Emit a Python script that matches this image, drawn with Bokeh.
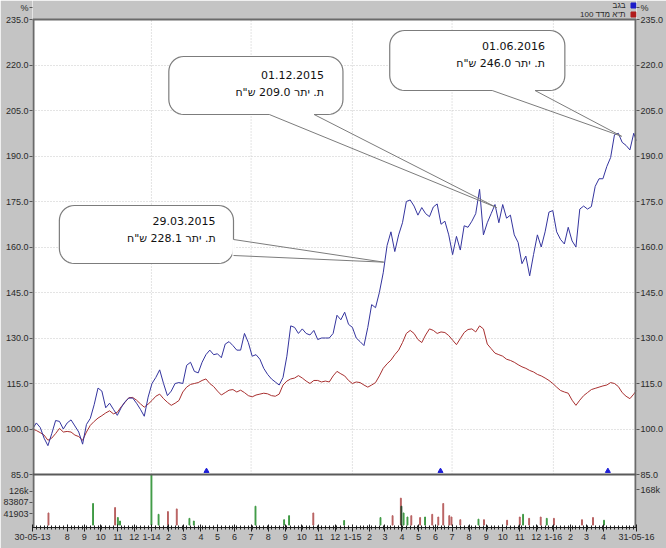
import numpy as np
import pandas as pd
from bokeh.plotting import figure
from bokeh.models import Range1d, FixedTicker, PrintfTickFormatter, LinearAxis, Span
from bokeh.core.properties import value
from bokeh.embed import file_html
from bokeh.resources import INLINE

# ---------------- data ----------------
START, END = "2013-05-30", "2016-05-31"
dates = list(pd.date_range(START, periods=157, freq="7D")) + [pd.Timestamp(END)]

stock = [100.0, 102.0, 100.5, 97.0, 94.5, 98.5, 102.8, 102.5, 100.0, 102.0,
         103.0, 101.0, 99.0, 95.0, 101.5, 103.5, 108.0, 113.5, 112.5, 107.0,
         108.5, 106.5, 104.5, 107.0, 109.0, 110.2, 110.2, 108.5, 106.5, 104.2,
         110.5, 115.0, 117.0, 119.5, 115.0, 111.0, 112.5, 115.0, 115.3, 115.0,
         121.0, 122.0, 119.0, 118.5, 122.0, 124.5, 126.0, 124.5, 124.8, 123.5,
         128.0, 128.8, 127.5, 126.0, 126.0, 131.5, 128.5, 124.0, 124.5, 123.0,
         120.0, 118.0, 116.5, 115.5, 114.5, 117.0, 124.0, 134.0, 133.5, 131.5,
         133.0, 131.5, 131.0, 132.5, 129.5, 130.0, 130.0, 130.0, 131.5, 137.5,
         136.0, 138.5, 134.5, 133.5, 130.0, 128.8, 127.5, 133.5, 141.0, 140.0,
         145.0, 151.5, 160.5, 165.0, 158.5, 164.0, 168.0, 175.0, 175.5, 173.5,
         170.5, 173.0, 171.0, 170.0, 173.2, 174.2, 167.5, 168.5, 164.0, 157.5,
         163.5, 159.0, 167.0, 166.5, 168.5, 171.0, 179.0, 164.0, 168.0, 171.0,
         174.0, 168.0, 174.0, 169.5, 170.5, 164.0, 161.5, 154.5, 157.0, 150.5,
         157.5, 164.0, 160.0, 165.0, 171.5, 172.0, 165.0, 162.5, 161.0, 166.5,
         162.0, 160.0, 172.5, 173.5, 172.5, 173.3, 180.0, 182.5, 182.5, 186.5,
         189.5, 197.0, 197.5, 194.5, 193.5, 192.0, 197.5, 195.0]

index100 = [100.0, 99.5, 98.8, 98.0, 96.3, 97.0, 98.5, 100.2, 99.0, 99.2,
            99.0, 98.0, 97.5, 96.3, 99.0, 101.2, 102.5, 103.6, 104.4, 105.3,
            106.0, 105.0, 105.5, 107.3, 108.8, 110.3, 110.4, 109.5, 108.3, 107.2,
            108.2, 109.4, 110.8, 111.5, 110.0, 108.8, 107.8, 108.5, 109.4, 112.2,
            113.8, 114.7, 115.0, 115.3, 116.0, 116.5, 115.0, 114.0, 112.5, 111.2,
            112.0, 112.8, 113.0, 112.2, 112.8, 112.0, 111.0, 110.6, 111.2, 111.5,
            111.8, 111.6, 111.0, 110.8, 111.5, 114.5, 115.8, 116.5, 116.8, 117.6,
            116.8, 115.8, 115.0, 116.0, 116.0, 115.5, 115.8, 115.5, 117.5, 119.0,
            118.2, 117.5, 116.0, 115.0, 115.5, 115.3, 114.5, 113.8, 114.5, 115.3,
            117.5, 120.0, 121.5, 122.7, 124.5, 126.0, 128.5, 131.5, 132.5, 131.5,
            129.5, 128.5, 131.0, 133.0, 132.5, 131.5, 132.0, 131.8, 130.8, 129.3,
            127.8, 129.8, 131.8, 132.8, 133.0, 132.0, 134.0, 133.0, 128.0, 126.5,
            125.0, 124.5, 124.0, 123.0, 122.6, 122.0, 121.2, 120.5, 120.0, 119.3,
            118.8, 118.0, 117.5, 116.8, 116.0, 115.0, 113.8, 112.7, 112.2, 111.8,
            109.5, 107.8, 109.5, 111.0, 112.0, 113.0, 113.4, 113.8, 114.2, 114.5,
            115.3, 115.0, 114.0, 112.0, 110.8, 110.0, 111.5, 112.7]

vol_dates = ["2013-06-28", "2013-09-17", "2013-10-27", "2013-11-01", "2013-11-05",
             "2014-01-01", "2014-01-14", "2014-01-31", "2014-02-16", "2014-03-11",
             "2014-03-19", "2014-07-09", "2014-08-30", "2014-09-08", "2014-10-22",
             "2014-12-17", "2015-02-21", "2015-03-15", "2015-03-30", "2015-03-31",
             "2015-04-04", "2015-04-11", "2015-04-18", "2015-05-04", "2015-05-13",
             "2015-05-26", "2015-06-06", "2015-06-15", "2015-06-26", "2015-06-30",
             "2015-07-16", "2015-08-18", "2015-08-28", "2015-10-09", "2015-11-01",
             "2015-11-07", "2015-11-18", "2015-12-09", "2015-12-20", "2016-01-02",
             "2016-02-22", "2016-03-13", "2016-04-02"]
vol_values = [45000, 80000, 65000, 28000, 15000,
              187000, 40000, 50000, 60000, 25000,
              15000, 70000, 20000, 35000, 45000,
              17000, 28000, 35000, 100000, 70000,
              45000, 30000, 35000, 28000, 30000,
              40000, 30000, 80000, 35000, 30000,
              20000, 22000, 20000, 18000, 30000,
              40000, 25000, 30000, 25000, 25000,
              20000, 28000, 18000]
vol_side = ["d", "u", "d", "u", "u",
            "u", "u", "d", "d", "u",
            "u", "u", "u", "u", "d",
            "u", "u", "d", "d", "n",
            "u", "u", "d", "d", "u",
            "d", "d", "d", "d", "d",
            "d", "u", "d", "d", "d",
            "u", "d", "d", "u", "d",
            "d", "d", "u"]

event_dates = ["2014-04-11", "2015-06-10", "2016-04-09"]

callout_dates = ["29.03.2015", "01.12.2015", "01.06.2016"]
callout_amounts = [228.1, 209.0, 246.0]
tip_dates = ["2015-02-27", "2015-09-20", "2016-05-04"]
tip_values = [155.0, 173.0, 196.5]

main_ticks = [85, 100, 115, 130, 145, 160, 175, 190, 205, 220, 235]
vol_ticks = [41903, 83807, 125709]
vol_tick_labels = ["41903", "83807", "126k"]
vol_max_label = "168k"
unit_label = "%"

x_tick_dates = ["2013-05-30", "2013-08-01", "2013-09-01", "2013-10-01", "2013-11-01", "2013-12-01",
                "2014-01-01", "2014-02-01", "2014-03-01", "2014-04-01", "2014-05-01", "2014-06-01",
                "2014-07-01", "2014-08-01", "2014-09-01", "2014-10-01", "2014-11-01", "2014-12-01",
                "2015-01-01", "2015-02-01", "2015-03-01", "2015-04-01", "2015-05-01", "2015-06-01",
                "2015-07-01", "2015-08-01", "2015-09-01", "2015-10-01", "2015-11-01", "2015-12-01",
                "2016-01-01", "2016-02-01", "2016-03-01", "2016-04-01", "2016-05-31"]
x_tick_labels = ["30-05-13", "8", "9", "10", "11", "12",
                 "1-14", "2", "3", "4", "5", "6", "7", "8", "9", "10", "11", "12",
                 "1-15", "2", "3", "4", "5", "6", "7", "8", "9", "10", "11", "12",
                 "1-16", "2", "3", "4", "31-05-16"]
grid_dates = ["2014-01-01", "2014-07-01", "2015-01-01", "2015-07-01", "2016-01-01"]

legend_names = ["בגב", "100 ת\"א מדד"]

# ---------------- layout / style ----------------
W, H = 666, 548
FL, FR, FB = 30, 637, 527
PLOT_T, MAIN_B = 19, 474
GRAY = "#c4c4c4"
FRAME = "#6a6a6a"
BLUE = "#34349e"
RED = "#a83030"
GREEN_V = "#3f9a45"
RED_V = "#b86060"
DARK_V = "#2a4a30"
AX_FONT = "Liberation Sans"


def ms(d):
    return pd.Timestamp(d).value / 1e6


T0, T1 = ms(START), ms(END)


def dx(px):
    return T0 + (px - FL) / (FR - FL) * (T1 - T0)


YPP = 150.0 / (MAIN_B - PLOT_T)


def dy(py):
    return 235 - (py - PLOT_T) * YPP


VOL_ZERO = 524.6
VOL_PP = 41903 / 11.3


def vol_to_main(v):
    return dy(VOL_ZERO - v / VOL_PP)


p = figure(width=W, height=H, x_axis_type="datetime",
           x_range=Range1d(T0, T1), y_range=Range1d(dy(FB), dy(0)),
           output_backend="svg", toolbar_location=None,
           min_border_left=FL, min_border_right=W - FR,
           min_border_top=0, min_border_bottom=H - FB,
           border_fill_color=GRAY, background_fill_color="white",
           outline_line_color=None)
p.extra_y_ranges = {"vol": Range1d(-(FB - VOL_ZERO) * VOL_PP, VOL_ZERO * VOL_PP)}

# top gray band
p.quad(left=T0, right=T1, bottom=235, top=dy(0), fill_color=GRAY, line_color=None)

# grids
p.xgrid.visible = False
p.ygrid.ticker = FixedTicker(ticks=main_ticks[1:-1])
p.ygrid.grid_line_color = "#c8c8c8"
p.ygrid.grid_line_dash = "1 2"
gx = [ms(d) for d in grid_dates]
p.segment(x0=gx, y0=85, x1=gx, y1=235, line_color="#c8c8c8", line_dash="1 2", line_width=1)

# series
xd = [ms(d) for d in dates]
p.line(xd, index100, line_color=RED, line_width=1)
p.line(xd, stock, line_color=BLUE, line_width=1)

# panel borders
p.add_layout(Span(location=85, dimension="width", line_color="#5a5a5a", line_width=2))
p.add_layout(Span(location=235, dimension="width", line_color=FRAME, line_width=2))
p.segment(x0=[T0, T1], y0=dy(FB), x1=[T0, T1], y1=235, line_color=FRAME, line_width=4)

# volume
cmap = {"u": GREEN_V, "d": RED_V, "n": DARK_V}
p.vbar(x=[ms(d) for d in vol_dates], top=vol_values, bottom=0, width=1.6 * 86400000,
       color=[cmap[s] for s in vol_side], y_range_name="vol")

# event markers
p.scatter(x=[ms(d) for d in event_dates], y=[dy(470.5)] * len(event_dates),
          marker="triangle", size=5, color="#1f1fd8")

# legend in the top band
p.text(x=[dx(626)] * 2, y=[dy(5), dy(14)], text=legend_names, text_align="right",
       text_baseline="middle", text_font=value(AX_FONT), text_font_size="8px",
       text_color="#2a2a2a")
p.scatter(x=[dx(634)] * 2, y=[dy(5), dy(14)], marker="square", size=5,
          color=["#1c1cc8", "#b01c1c"])

# callouts
bubbles = [
    dict(box=(57, 205, 232, 263), A=(232, 239), B=(232, 255), tx=214, ty=(220, 238)),
    dict(box=(167, 56, 342, 114), A=(268, 114), B=(313, 114), tx=323, ty=(74, 92)),
    dict(box=(389, 30, 565, 90), A=(492, 90), B=(535, 90), tx=545, ty=(45, 63)),
]


def rrect(x0, y0, x1, y1, r, n=10):
    pts = []
    for cx, cy, a0 in [(x1 - r, y0 + r, -90), (x1 - r, y1 - r, 0), (x0 + r, y1 - r, 90), (x0 + r, y0 + r, 180)]:
        for a in np.linspace(a0, a0 + 90, n):
            pts.append((cx + r * np.cos(np.radians(a)), cy + r * np.sin(np.radians(a))))
    return pts


for i, b in enumerate(bubbles):
    pts = rrect(*b["box"], 15)
    p.patch([dx(q[0]) for q in pts], [dy(q[1]) for q in pts],
            fill_color="white", line_color="#7c7c7c", line_width=1.2)
    (ax, ay), (bx, by) = b["A"], b["B"]
    p.line([dx(ax), dx(bx)], [dy(ay), dy(by)], line_color="white", line_width=2.5)
    tx, ty = ms(tip_dates[i]), tip_values[i]
    p.line([dx(ax), tx], [dy(ay), ty], line_color="#7c7c7c", line_width=1)
    p.line([dx(bx), tx], [dy(by), ty], line_color="#7c7c7c", line_width=1)
    heb = "ת. יתר %.1f ש\"ח" % callout_amounts[i]
    p.text(x=[dx(b["tx"]), dx(b["tx"])], y=[dy(b["ty"][0]), dy(b["ty"][1])],
           text=[callout_dates[i], heb],
           text_align="right", text_baseline="middle",
           text_font=value("DejaVu Sans"), text_font_size="11px", text_color="#111111")

# axes
pct_pos = round(dy(7), 4)
left_vol_pos = [round(vol_to_main(v), 4) for v in vol_ticks]
yl = p.yaxis[0]
yl.ticker = FixedTicker(ticks=main_ticks + left_vol_pos + [pct_pos])
yl.formatter = PrintfTickFormatter(format="%.1f")
ovl = {pos: lab for pos, lab in zip(left_vol_pos, vol_tick_labels)}
ovl[pct_pos] = unit_label
yl.major_label_overrides = ovl
right_extra = round(dy(489), 4)
yr = LinearAxis(ticker=FixedTicker(ticks=main_ticks + [right_extra, pct_pos]),
                formatter=PrintfTickFormatter(format="%.1f"))
yr.major_label_overrides = {right_extra: vol_max_label, pct_pos: unit_label}
p.add_layout(yr, "right")
for ax in (yl, yr):
    ax.axis_line_color = None
    ax.major_tick_out = 3
    ax.major_tick_in = 0
    ax.minor_tick_line_color = None
    ax.major_tick_line_color = "#555555"
    ax.major_label_standoff = 1
    ax.major_label_text_font = AX_FONT
    ax.major_label_text_font_size = "9px"
    ax.major_label_text_color = "#2a2a2a"

xa = p.xaxis[0]
x_ticks_ms = [ms(d) for d in x_tick_dates]
minor = [ms(d) for d in pd.date_range(START, END, freq="7D")]
xa.ticker = FixedTicker(ticks=x_ticks_ms, minor_ticks=minor)
xa.major_label_overrides = {t: lab for t, lab in zip(x_ticks_ms, x_tick_labels)}
xa.axis_line_color = "#1e1e1e"
xa.major_tick_line_color = "#1e1e1e"
xa.minor_tick_line_color = "#1e1e1e"
xa.major_tick_in = 3
xa.major_tick_out = 4
xa.minor_tick_in = 2
xa.minor_tick_out = 2
xa.major_label_standoff = 2
xa.major_label_text_font = AX_FONT
xa.major_label_text_font_size = "9px"
xa.major_label_text_color = "#2a2a2a"

open("out.html", "w").write(file_html(p, INLINE))
